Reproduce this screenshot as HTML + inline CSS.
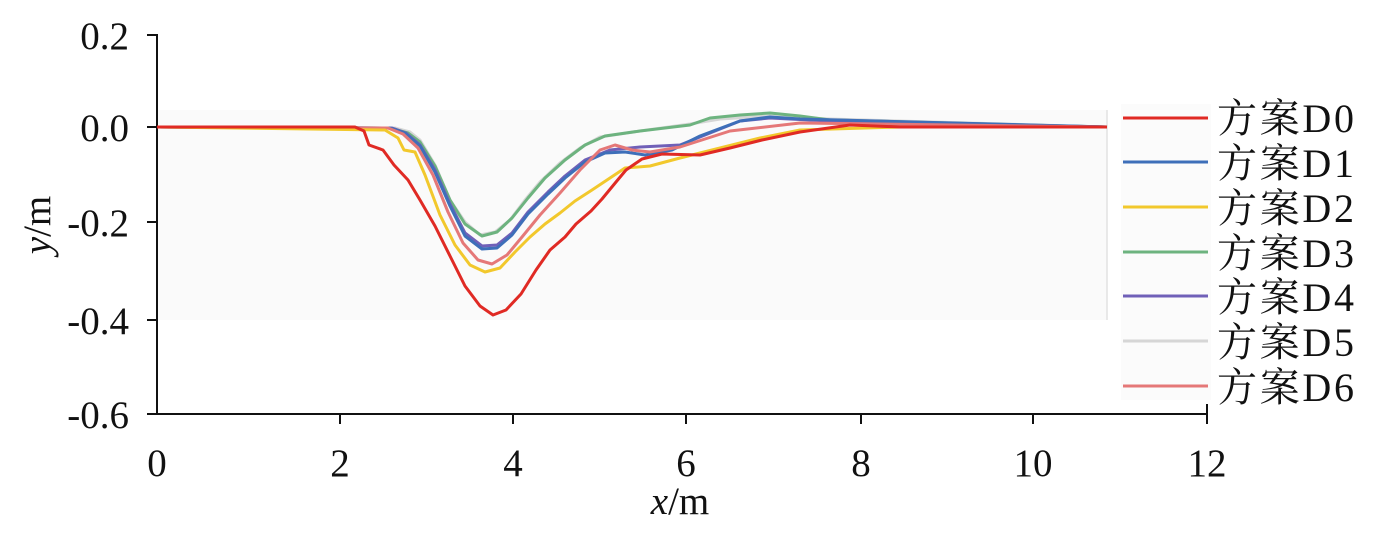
<!DOCTYPE html>
<html><head><meta charset="utf-8"><style>
body{margin:0;background:#fff}
svg text{font-family:"Liberation Serif","Noto Serif CJK SC",serif;fill:#111}
</style></head><body>
<svg width="1382" height="537" viewBox="0 0 1382 537">
<rect x="157" y="110" width="950" height="210" fill="#fafafa"/>
<line x1="1107" y1="110" x2="1107" y2="320" stroke="#e2e2e2" stroke-width="1.5"/>
<rect x="1121" y="104" width="90" height="296" fill="#fbfbfb"/>
<g stroke="#111" stroke-width="2" fill="none">
<line x1="157" y1="34" x2="157" y2="415"/>
<line x1="156" y1="414" x2="1208" y2="414"/>
<line x1="147" y1="35" x2="157" y2="35"/><line x1="147" y1="127" x2="157" y2="127"/>
<line x1="147" y1="222" x2="157" y2="222"/><line x1="147" y1="320" x2="157" y2="320"/>
<line x1="147" y1="414" x2="157" y2="414"/>
<line x1="340" y1="414" x2="340" y2="424"/><line x1="513" y1="414" x2="513" y2="424"/>
<line x1="686" y1="414" x2="686" y2="424"/><line x1="861" y1="414" x2="861" y2="424"/>
<line x1="1033" y1="414" x2="1033" y2="424"/><line x1="1207" y1="404" x2="1207" y2="424"/>
</g>
<g font-size="39" text-anchor="end">
<text x="129" y="49">0.2</text><text x="129" y="141">0.0</text>
<text x="129" y="236">-0.2</text><text x="129" y="334">-0.4</text><text x="129" y="428">-0.6</text>
</g>
<g font-size="39" text-anchor="middle">
<text x="157" y="476">0</text><text x="340" y="476">2</text><text x="513" y="476">4</text>
<text x="686" y="476">6</text><text x="861" y="476">8</text><text x="1033" y="476">10</text><text x="1207" y="476">12</text>
<text x="680" y="514"><tspan font-style="italic">x</tspan>/m</text>
</g>
<text font-size="39" text-anchor="middle" transform="translate(50,225) rotate(-90)"><tspan font-style="italic">y</tspan>/m</text>
<g fill="none" stroke-width="3" stroke-linejoin="round">
<polyline stroke="#d6d6d6" points="157,127 395,128 410,132 420,140 435,165 450,200 465,222 480,235 495,232 510,220 525,200 540,182 560,163 580,148 600,137 640,131 690,124 720,119 770,116 830,119 1107,127"/>
<polyline stroke="#6db37f" points="157,127 390,128 408,133 420,142 435,166 450,200 465,224 482,236 497,232 512,218 528,198 545,178 565,160 585,145 605,136 640,131 690,125 710,118 740,115 770,113 800,116 830,120 1107,127"/>
<polyline stroke="#7060b8" points="157,127 392,128 406,133 420,145 435,170 450,204 465,233 482,246 497,245 512,233 528,212 548,192 565,176 585,160 610,150 640,147 680,145 710,133 740,121 770,118 830,121 1107,127"/>
<polyline stroke="#3e6fb9" points="157,127 390,128 405,133 420,146 435,172 450,206 465,236 482,249 497,248 512,235 528,214 548,194 565,178 585,162 605,153 625,152 645,155 672,150 700,136 740,121 770,117 800,119 1107,127"/>
<polyline stroke="#e57878" points="157,127 388,128 403,134 418,148 433,175 448,212 463,243 478,260 492,264 507,255 522,237 540,215 560,193 580,170 600,150 615,145 632,150 650,152 680,147 730,131 800,123 1107,127"/>
<polyline stroke="#f2c82c" points="157,127 385,130 398,138 404,150 415,152 425,175 440,215 455,245 470,265 485,272 500,268 515,252 530,237 545,224 560,213 575,201 592,190 607,180 625,168 650,166 680,158 720,148 760,138 800,130 900,127 1107,127"/>
<polyline stroke="#e02a24" points="157,127 355,127 364,131 369,145 383,150 394,165 408,180 420,200 435,226 450,256 465,286 480,306 493,315 506,310 521,294 536,270 550,250 565,237 576,224 591,211 602,199 616,182 626,170 642,159 662,154 700,155 730,148 762,140 800,132 850,125 900,127 1000,127 1107,127"/>
</g>
<g stroke-width="3">
<line x1="1123" y1="118" x2="1208" y2="118" stroke="#e02a24"/>
<line x1="1123" y1="162" x2="1208" y2="162" stroke="#3e6fb9"/>
<line x1="1123" y1="207" x2="1208" y2="207" stroke="#f2c82c"/>
<line x1="1123" y1="252" x2="1208" y2="252" stroke="#6db37f"/>
<line x1="1123" y1="296" x2="1208" y2="296" stroke="#7060b8"/>
<line x1="1123" y1="341" x2="1208" y2="341" stroke="#d6d6d6"/>
<line x1="1123" y1="386" x2="1208" y2="386" stroke="#e57878"/>
</g>
<g font-size="40" textLength="137">
<text x="1217" y="132" textLength="137">方案D0</text><text x="1217" y="177" textLength="137">方案D1</text>
<text x="1217" y="222" textLength="137">方案D2</text><text x="1217" y="267" textLength="137">方案D3</text>
<text x="1217" y="311" textLength="137">方案D4</text><text x="1217" y="356" textLength="137">方案D5</text>
<text x="1217" y="401" textLength="137">方案D6</text>
</g>
</svg>
</body></html>
